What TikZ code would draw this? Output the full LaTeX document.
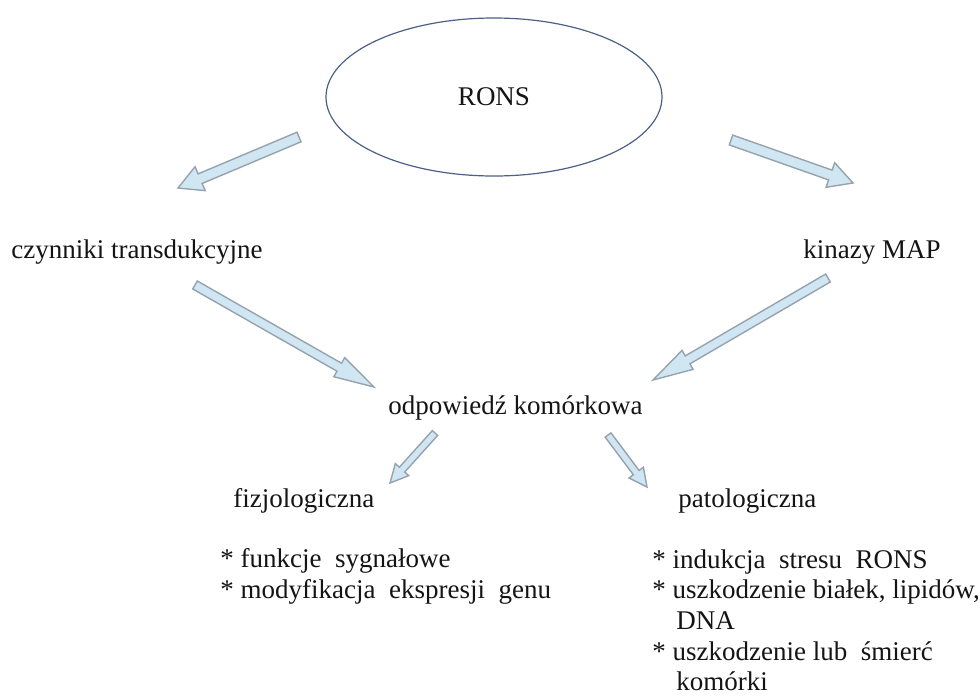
\documentclass[tikz,border=0pt]{standalone}
\usepackage{fontspec}
\setmainfont{Liberation Serif}
\usetikzlibrary{calc,positioning,shapes.geometric}
\definecolor{arrowfill}{RGB}{208,230,243}
\definecolor{arrowline}{RGB}{150,162,172}
\definecolor{ellline}{RGB}{75,95,135}
\definecolor{txt}{RGB}{20,20,20}
% block arrow: start, tip, shaft half width, head half width, head length
\newcommand{\blockarrow}[5]{%
  \coordinate (hb) at ($(#2)!#5!(#1)$);
  \filldraw[fill=arrowfill, draw=arrowline, line width=0.7pt, line join=miter]
    ($(#1)!#3!90:(#2)$) -- ($(hb)!#3!90:(#2)$) -- ($(hb)!#4!90:(#2)$) -- (#2)
    -- ($(hb)!#4!-90:(#2)$) -- ($(hb)!#3!-90:(#2)$) -- ($(#1)!#3!-90:(#2)$) -- cycle;
}

\begin{document}
\begin{tikzpicture}[x=0.5pt, y=-0.5pt, font=\fontsize{13.5}{15.2}\selectfont, text=txt]
            \tikzstyle{label} = [inner sep=0pt, anchor=base west]
            \tikzstyle{cloud} = [draw=ellline, ellipse, line width=0.6pt,
                minimum width=168pt, minimum height=79pt, inner sep=0pt]
            \useasboundingbox (0,0) rectangle (980,697);
            \node [cloud] (rons) at (494,97) {RONS};
            \node [label] (factors) at (11,258) {czynniki transdukcyjne};
            \node [label, anchor=base east] (kinases) at (941,258) {kinazy MAP};
            \node [label] (response) at (388,414) {odpowiedź komórkowa};
            \node [label] (physio) at (233,507) {fizjologiczna};
            \node [label] (patho) at (678,507) {patologiczna};

            % physiological effects
            \node [label] (ph1) at (220,567) {* funkcje~ sygnałowe};
            \node [label] (ph2) at (220,598) {* modyfikacja~ ekspresji~ genu};
            % pathological effects
            \node [label] (pa1) at (652,568) {* indukcja~ stresu~ RONS};
            \node [label] (pa2) at (652,598) {* uszkodzenie białek, lipidów,};
            \node [label] (pa3) at (676,629) {DNA};
            \node [label] (pa4) at (652,660) {* uszkodzenie lub~ śmierć};
            \node [label] (pa5) at (676,690) {komórki};

            \coordinate (a1s) at (299,137);  \coordinate (a1t) at (178,188);
            \coordinate (a2s) at (731,140);  \coordinate (a2t) at (853,183);
            \coordinate (a3s) at (195,285);  \coordinate (a3t) at (374,387);
            \coordinate (a4s) at (828,278);  \coordinate (a4t) at (653,380);
            \coordinate (a5s) at (435,433);  \coordinate (a5t) at (390,483);
            \coordinate (a6s) at (608,435);  \coordinate (a6t) at (647,487);

            \blockarrow{a1s}{a1t}{2.6pt}{6.5pt}{12pt}
            \blockarrow{a2s}{a2t}{2.6pt}{6.5pt}{12pt}
            \blockarrow{a3s}{a3t}{2.3pt}{5.5pt}{20pt}
            \blockarrow{a4s}{a4t}{2.3pt}{5.5pt}{20pt}
            \blockarrow{a5s}{a5t}{1.8pt}{4.5pt}{9pt}
            \blockarrow{a6s}{a6t}{1.8pt}{4.5pt}{9pt}
\end{tikzpicture}
\end{document}
